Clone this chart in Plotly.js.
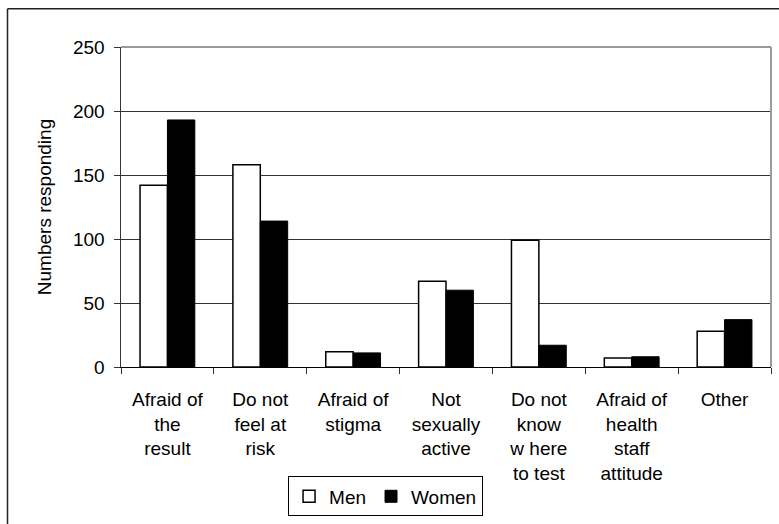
<!DOCTYPE html>
<html>
<head>
<meta charset="utf-8">
<script src="https://cdn.plot.ly/plotly-3.0.1.min.js"></script>
<style>
  html, body { margin: 0; padding: 0; background: #fff; }
  #chart { width: 779px; height: 524px; }
</style>
</head>
<body>
<div id="chart"></div>
<script>
// Reasons given for not testing, by sex
const reasons = [
  'Afraid of the result',
  'Do not feel at risk',
  'Afraid of stigma',
  'Not sexually active',
  'Do not know where to test',
  'Afraid of health staff attitude',
  'Other'
];
const reasonLabels = [
  'Afraid of<br>the<br>result',
  'Do not<br>feel at<br>risk',
  'Afraid of<br>stigma',
  'Not<br>sexually<br>active',
  'Do not<br>know<br>w here<br>to test',
  'Afraid of<br>health<br>staff<br>attitude',
  'Other'
];
const men   = [142, 158, 12, 67, 99, 7, 28];
const women = [193, 114, 11, 60, 17, 8, 37];
const yTicks = [0, 50, 100, 150, 200, 250];

const FONT = 'Liberation Sans, Arial, sans-serif';

const traces = [
  {
    type: 'bar', name: 'Men', x: reasons, y: men,
    marker: { color: '#ffffff', line: { color: '#000000', width: 1.5 } },
    hoverinfo: 'x+y+name'
  },
  {
    type: 'bar', name: 'Women', x: reasons, y: women,
    marker: { color: '#000000', line: { color: '#000000', width: 1 } },
    hoverinfo: 'x+y+name'
  }
];

const layout = {
  width: 779, height: 524,
  margin: { l: 121, r: 8, t: 47, b: 155, pad: 0 },
  paper_bgcolor: '#ffffff', plot_bgcolor: '#ffffff',
  font: { family: FONT, size: 19, color: '#000000' },
  barmode: 'group', bargap: 0.41, bargroupgap: 0,
  showlegend: true,
  legend: {
    orientation: 'h', x: 0.257, xanchor: 'left', y: -0.342, yanchor: 'top',
    bordercolor: '#000000', borderwidth: 1, bgcolor: '#ffffff',
    font: { family: FONT, size: 19, color: '#000000' },
    itemwidth: 30, traceorder: 'normal'
  },
  xaxis: {
    type: 'category', tickson: 'boundaries',
    tickvals: reasons, ticktext: reasonLabels,
    ticks: 'outside', ticklen: 6, tickcolor: '#333333', tickwidth: 1,
    ticklabelstandoff: 15,
    showline: true, linecolor: '#000000', linewidth: 1,
    showgrid: false, zeroline: false, tickangle: 0, automargin: false,
    tickfont: { family: FONT, size: 19, color: '#000000' },
    fixedrange: true
  },
  yaxis: {
    range: [0, 250], tickvals: yTicks, ticktext: yTicks.map(String),
    ticks: 'outside', ticklen: 6, tickcolor: '#333333', tickwidth: 1,
    ticklabelstandoff: 5,
    showline: true, linecolor: '#333333', linewidth: 1.5,
    showgrid: true, gridcolor: '#333333', gridwidth: 1, zeroline: false,
    automargin: false,
    tickfont: { family: FONT, size: 19, color: '#000000' },
    title: { text: 'Numbers responding', standoff: 16,
             font: { family: FONT, size: 19, color: '#000000' } },
    fixedrange: true
  },
  shapes: [
    // grey plot-area frame (top and right edges)
    { type: 'line', xref: 'paper', yref: 'paper', x0: 0, x1: 1, y0: 1, y1: 1,
      line: { color: '#9a9a9a', width: 2 }, layer: 'above' },
    { type: 'line', xref: 'paper', yref: 'paper', x0: 1, x1: 1, y0: 0, y1: 1,
      line: { color: '#9a9a9a', width: 2 }, layer: 'above' },
    // outer chart frame
    { type: 'line', xref: 'paper', yref: 'paper', x0: -0.1746, x1: 1.1, y0: 1.1197, y1: 1.1197,
      line: { color: '#222222', width: 1.5 }, layer: 'above' },
    { type: 'line', xref: 'paper', yref: 'paper', x0: -0.1746, x1: -0.1746, y0: 1.1197, y1: -0.6,
      line: { color: '#222222', width: 1.5 }, layer: 'above' }
  ]
};

Plotly.newPlot('chart', traces, layout, { displayModeBar: false, staticPlot: true });
</script>
</body>
</html>
